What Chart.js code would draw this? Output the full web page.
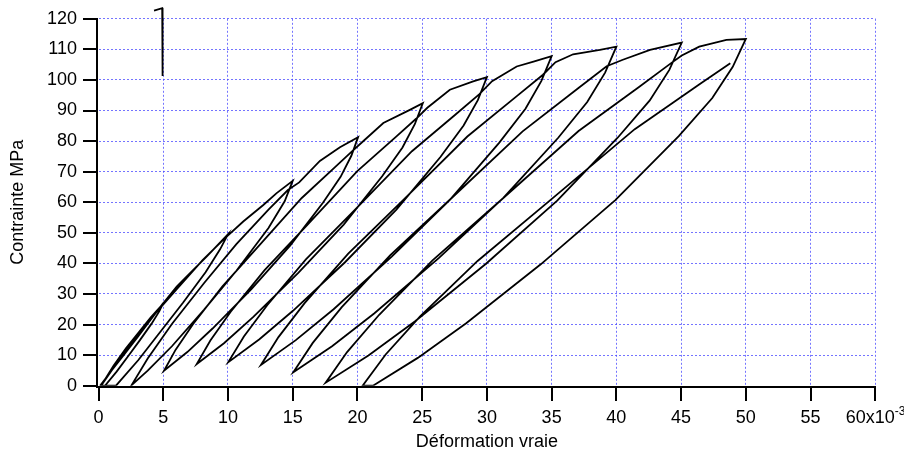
<!DOCTYPE html>
<html><head><meta charset="utf-8">
<script src="https://cdn.jsdelivr.net/npm/chart.js@4.4.1/dist/chart.umd.min.js"></script>
<style>html,body{margin:0;padding:0;background:#fff;overflow:hidden}#wrap{width:904px;height:453px}</style>
</head><body>
<div id="wrap"><canvas id="c" width="904" height="453"></canvas></div>
<script>
// strain in 10^-3, stress in MPa
const xTickValues = [0,5,10,15,20,25,30,35,40,45,50,55,60];
const yTickValues = [0,10,20,30,40,50,60,70,80,90,100,110,120];
const xTitle = 'Déformation vraie';
const yTitle = 'Contrainte MPa';

const initialLoad = [[0.12,0],[1,4.9],[2,10.3],[3,15.8],[4,21.4],[5,27]];
const unload1 = [[4.69,24.3],[4.1,20.3],[3.2,14.9],[2.3,9.7],[1.4,4.6],[0.5,0]];
const reload1 = [[0.2,0],[1.16,6.5],[2.12,12.2],[3.08,17.3],[4.04,22.4],[4.86,26.2],[6.04,32.4],[7.07,36.8],[8.35,42.2],[10,49.5]];
const unload2 = [[9.39,44.6],[8.27,37.1],[6.54,27.2],[4.81,17.8],[3.08,8.4],[1.35,0]];
const reload2 = [[0.2,0],[2.16,11.9],[4.12,22.3],[6.08,31.7],[8.04,41.1],[9.71,48.0],[11.18,53.7],[12.73,59.1],[13.76,63.0],[15,67]];
const unload3 = [[14.38,60.3],[13.13,51.6],[10.65,37.6],[8.16,24.9],[5.67,12.9],[3.8,4.9],[2.56,0.2]];
const reload3 = [[3.8,8.9],[5.67,20.2],[8.16,33.6],[10.65,46.3],[13.13,57.6],[14.63,64.0],[15.5,66.5],[17.1,73.5],[18.65,78.0],[20.05,81.3]];
const unload4 = [[19.53,75.2],[18.7,68.3],[17.35,59.9],[14.8,45.8],[11.81,31.6],[8.81,18.7],[6.86,11.0],[5.06,4.9]];
const reload4 = [[5.96,11.8],[7.31,20.2],[9.56,32.4],[12.4,45.8],[15.7,61.4],[18.25,71.4],[19.6,76.7],[20.4,79.8],[22.0,85.9],[24.05,90.2],[25.05,92.4]];
const unload5 = [[24.44,85.6],[23.48,77.9],[21.91,68.5],[18.94,52.7],[15.45,37.0],[11.96,22.5],[9.69,13.9],[7.59,7.1]];
const reload5 = [[8.64,14.8],[10.21,24.2],[12.83,37.8],[16.15,52.7],[19.99,70.2],[22.95,81.3],[24.53,87.3],[25.4,90.9],[27.14,96.8],[28.94,99.5],[30.0,100.9]];
const unload6 = [[29.3,93.4],[28.2,85.1],[26.41,74.8],[23.01,57.6],[19.02,40.3],[15.02,24.5],[12.43,15.2],[10.03,7.7]];
const reload6 = [[11.23,16.1],[13.03,26.3],[16.02,41.3],[19.82,57.6],[24.21,76.7],[27.6,88.8],[29.4,95.3],[30.4,99.6],[32.3,104.4],[33.6,106.0],[35.0,107.8]];
const unload7 = [[34.21,99.7],[32.98,90.6],[30.96,79.5],[27.14,60.8],[22.65,42.2],[18.16,25.0],[15.24,14.9],[12.55,6.8]];
const reload7 = [[13.9,15.9],[15.92,27.0],[19.29,43.2],[23.55,60.8],[28.49,81.5],[32.31,94.7],[34.33,101.7],[35.3,105.8],[36.66,108.4],[38.73,109.8],[40,110.9]];
const unload8 = [[39.13,102.4],[37.75,92.8],[35.51,81.1],[31.27,61.4],[26.28,41.7],[21.29,23.6],[18.04,12.9],[15.05,4.4]];
const reload8 = [[16.55,14.0],[18.79,25.7],[22.54,42.7],[27.28,61.4],[32.76,83.2],[37.0,97.1],[39.25,104.5],[40.5,106.6],[42.6,109.8],[45.05,112.2]];
const unload9 = [[44.09,103.3],[42.58,93.3],[40.1,81.1],[35.43,60.5],[29.93,39.9],[24.43,21.0],[20.85,9.9],[17.55,1.0]];
const reload9 = [[19.2,11.0],[21.68,23.2],[25.8,41.0],[31.03,60.5],[37.08,83.3],[41.75,97.7],[44.23,105.5],[45.05,108.0],[46.4,110.9],[48.5,113.1],[50,113.4]];
const unload10 = [[48.99,104.3],[47.41,94.1],[44.82,81.6],[39.92,60.7],[34.16,39.7],[28.4,20.4],[24.66,9.1],[21.2,0]];
const reload10 = [[20.4,0],[22.18,10.2],[24.84,22.7],[29.28,40.8],[34.9,60.7],[41.42,83.9],[46.45,98.7],[48.8,105.5]];
const strayMark = [[4.29,122.7],[4.92,123.5],[4.95,101.3]];

const segments = [initialLoad, unload1, reload1, unload2, reload2, unload3, reload3, unload4, reload4,
  unload5, reload5, unload6, reload6, unload7, reload7, unload8, reload8, unload9, reload9, unload10, reload10];
const path = [];
segments.forEach(s => s.forEach(p => path.push({x: p[0], y: p[1]})));
const markData = strayMark.map(p => ({x: p[0], y: p[1]}));

const FONT = '"Liberation Sans", Arial, Helvetica, sans-serif';
Chart.defaults.font.family = FONT;
Chart.defaults.color = '#000';

const GRID = 'rgba(70,70,255,0.75)';

const igorAxes = {
  id: 'igorAxes',
  beforeDatasetsDraw(chart) {
    const {ctx, scales: {x, y}} = chart;
    const ax = Math.round(x.getPixelForValue(0) - 1.6);
    const ay = Math.round(y.getPixelForValue(0) + 1.3);
    ctx.save();
    ctx.setLineDash([]);
    ctx.strokeStyle = '#000';
    ctx.lineWidth = 2;
    ctx.beginPath();
    ctx.moveTo(ax, Math.round(y.getPixelForValue(120)) - 1);
    ctx.lineTo(ax, ay + 1);
    ctx.moveTo(ax - 1, ay);
    ctx.lineTo(Math.round(x.getPixelForValue(60)) + 1, ay);
    yTickValues.forEach(v => {
      const py = Math.round(y.getPixelForValue(v));
      ctx.moveTo(ax - 14, py); ctx.lineTo(ax, py);
    });
    xTickValues.forEach(v => {
      const px = Math.round(x.getPixelForValue(v));
      ctx.moveTo(px, ay); ctx.lineTo(px, ay + 14);
    });
    ctx.stroke();
    ctx.restore();
  },
  afterDraw(chart) {
    const {ctx, scales: {x}} = chart;
    const px = x.getPixelForValue(60);
    ctx.save();
    ctx.font = '18px ' + FONT;
    const full = ctx.measureText('60x10  ').width;
    const base = ctx.measureText('60x10').width;
    const sx = px - full / 2 + base;
    ctx.font = '12px ' + FONT;
    ctx.fillStyle = '#000';
    ctx.textAlign = 'left';
    ctx.textBaseline = 'alphabetic';
    ctx.fillText('-3', sx, x.bottom - 67.3 + 29.5);
    ctx.restore();
  }
};

new Chart(document.getElementById('c'), {
  type: 'scatter',
  data: {
    datasets: [
      {data: path, showLine: true, borderColor: '#000', borderWidth: 1.8, pointRadius: 0, tension: 0, fill: false},
      {data: markData, showLine: true, borderColor: '#000', borderWidth: 1.8, pointRadius: 0, tension: 0, fill: false, clip: false}
    ]
  },
  options: {
    responsive: false,
    animation: false,
    events: [],
    layout: {padding: {top: 18.8, right: 28.7, bottom: 0, left: 0}},
    plugins: {legend: {display: false}, tooltip: {enabled: false}},
    scales: {
      x: {
        type: 'linear', min: 0, max: 60,
        afterBuildTicks: s => { s.ticks = xTickValues.map(v => ({value: v})); },
        afterFit: s => { s.height = 67.3; s.paddingLeft = 0; s.paddingRight = 0; },
        ticks: {
          autoSkip: false, maxRotation: 0, minRotation: 0, padding: 22,
          font: {size: 18}, color: '#000',
          callback: v => v === 60 ? '60x10  ' : String(v)
        },
        grid: {drawTicks: false, lineWidth: 1, color: c => (c.tick && c.tick.value === 0) ? 'rgba(0,0,0,0)' : GRID},
        border: {display: false, dash: [2, 2]},
        title: {display: true, text: xTitle, font: {size: 18}, color: '#000', padding: {top: 0, bottom: 0}}
      },
      y: {
        type: 'linear', min: 0, max: 120,
        afterBuildTicks: s => { s.ticks = yTickValues.map(v => ({value: v})); },
        afterFit: s => { s.width = 98.5; s.paddingTop = 0; s.paddingBottom = 0; },
        ticks: {autoSkip: false, padding: 21.5, font: {size: 18}, color: '#000'},
        grid: {drawTicks: false, lineWidth: 1, color: c => (c.tick && c.tick.value === 0) ? 'rgba(0,0,0,0)' : GRID},
        border: {display: false, dash: [2, 2]},
        title: {display: true, text: yTitle, font: {size: 18}, color: '#000', padding: {top: 7.5, bottom: 0}}
      }
    }
  },
  plugins: [igorAxes]
});
</script>
</body></html>
